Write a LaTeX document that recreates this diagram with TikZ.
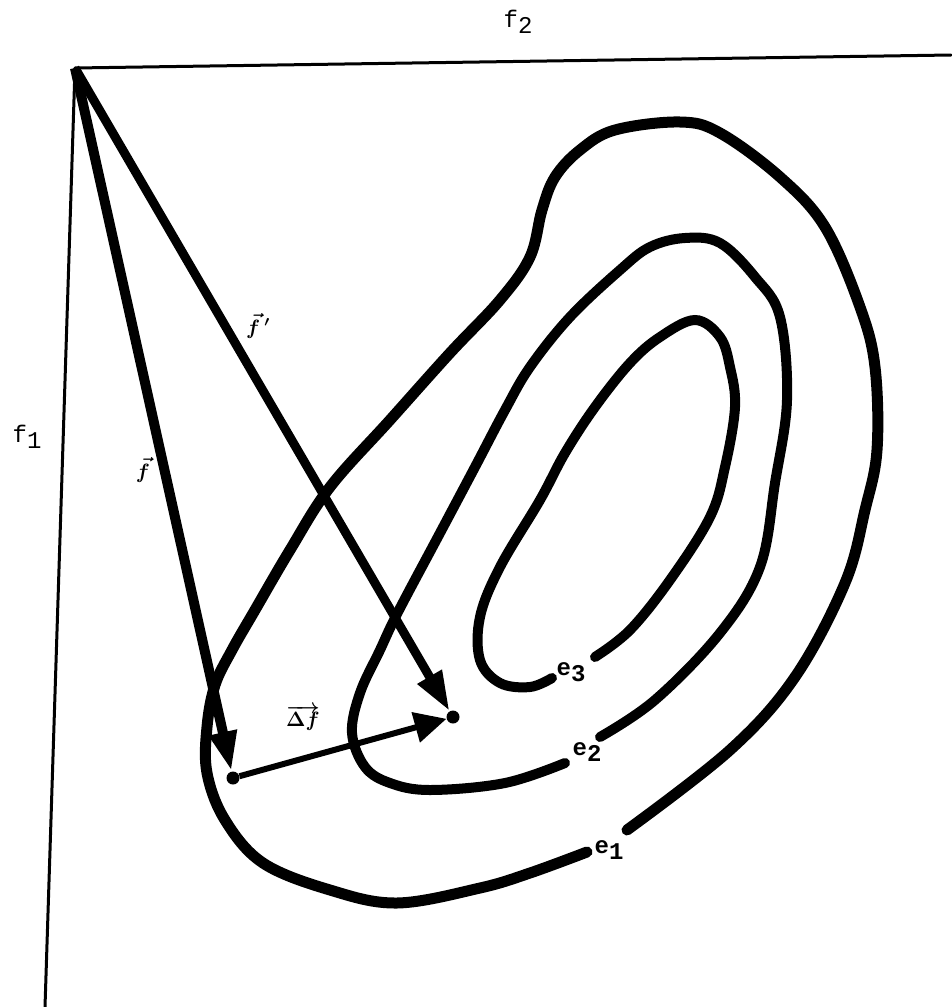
\documentclass[tikz,border=0pt]{standalone}
\usepackage{fontspec}
\setmonofont{Liberation Mono}
\usepackage{tikz}
\usetikzlibrary{arrows.meta,positioning,calc}
\newcommand{\idx}[2]{#1\raisebox{-.5ex}{#2}}
\tikzset{
  tengely/.style={line width=3pt,line cap=round,line join=round},
  vekt/.style={line width=10pt,-{Triangle[length=40pt,width=26pt]}},
  dvekt/.style={line width=6pt,-{Triangle[length=32pt,width=30pt]}},
  pont/.style={circle,fill,inner sep=0pt,minimum size=13pt},
  szint/.style={line width=10pt,line cap=round},
  felirat/.style={font=\fontsize{24}{26}\selectfont\ttfamily,inner sep=0pt},
  szintfel/.style={font=\fontsize{24}{26}\selectfont\ttfamily\bfseries,inner sep=0pt},
  vfel/.style={font=\fontsize{22}{24}\selectfont\boldmath,inner sep=1pt},
}
\begin{document}
\begin{tikzpicture}[x=1pt,y=-1pt]
  \useasboundingbox (0,0) rectangle (951,1007);
  % tengelyek
  \coordinate (o) at (75,68);
  \coordinate (xv) at (951,55);
  \coordinate (yv) at (45,1007);
  \draw[tengely] (xv) -- (o) -- (yv);
  \node[felirat] (f2) at (518,22) {\idx{f}{2}};
  \node[felirat] (f1) at (27,437) {\idx{f}{1}};
  % szintvonalak
  \draw[szint,line width=11pt] plot[smooth,tension=.6] coordinates {
    (587,852) (530,873) (480,888) (397,903) (330,890) (263,863) (225,820) (207,773)
    (207,727) (215,685) (232,650) (255,610) (290,550) (330,487) (390,420) (450,353)
    (500,300) (530,257) (542,210) (555,177) (580,150) (615,130) (680,122) (720,133)
    (780,177) (825,227) (860,307) (875,367) (877,450) (865,510) (845,583) (795,677)
    (730,750) (627,830)};
  \draw[szint] plot[smooth,tension=.6] coordinates {
    (565,763) (505,783) (430,790) (390,783) (365,767) (352,733) (360,693) (380,650)
    (398,612) (440,533) (475,467) (505,410) (530,367) (570,317) (620,270) (650,247)
    (685,238) (720,243) (755,277) (780,317) (787,400) (775,483) (760,567) (720,633)
    (655,700) (600,737)};
  \draw[szint] plot[smooth,tension=.6] coordinates {
    (552,678) (530,687) (500,683) (480,660) (480,617) (500,567) (540,500) (565,453)
    (595,407) (630,363) (660,337) (695,320) (720,337) (730,367) (735,407) (725,467)
    (710,517) (670,580) (630,630) (595,657)};
  \node[szintfel] (e3) at (571,672) {\idx{e}{3}};
  \node[szintfel] (e2) at (587,752) {\idx{e}{2}};
  \node[szintfel] (e1) at (609,850) {\idx{e}{1}};
  % vektorok
  \node[pont] (p) at (233,778) {};
  \node[pont] (q) at (453,717) {};
  \draw[vekt] (o) -- (p);
  \draw[vekt,line width=9pt] (o) -- (q);
  \draw[dvekt] (p) -- (q);
  \node[vfel] (fv) at (143,470) {$\vec{f}$};
  \node[vfel] (fvv) at (258,326) {$\vec{f}\,'$};
  \node[vfel] (dfv) at (303,718) {$\overrightarrow{\Delta f}$};
\end{tikzpicture}
\end{document}
